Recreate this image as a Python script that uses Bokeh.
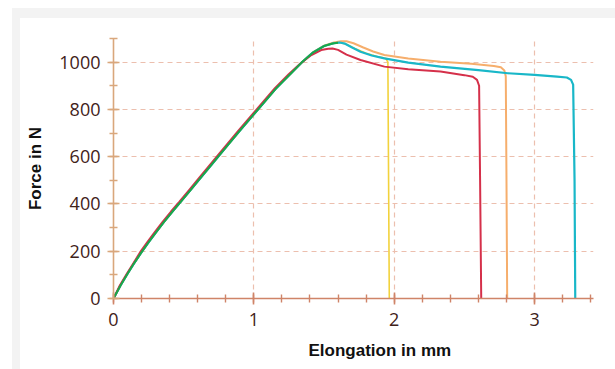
from bokeh.plotting import figure
from bokeh.models import Range1d, SingleIntervalTicker, Title
from bokeh.embed import file_html
from bokeh.resources import INLINE

# ---- data (elongation in mm, force in N) ----
yellow_x = [0, 0.05, 0.1, 0.15, 0.2, 0.25, 0.3, 0.36, 0.42, 0.48, 0.55, 0.62, 0.7, 0.75, 0.82, 0.9, 1.03, 1.16, 1.26, 1.34, 1.42, 1.5, 1.57, 1.61, 1.66, 1.72, 1.8, 1.88, 1.94, 1.955, 1.96, 1.965]
yellow_y = [0, 55, 105, 152, 196, 238, 278, 324, 368, 410, 460, 510, 567, 603, 653, 710, 800, 890, 950, 998, 1040, 1068, 1080, 1083, 1076, 1058, 1038, 1024, 1016, 1000, 500, 0]

orange_x = [0, 0.05, 0.1, 0.15, 0.2, 0.25, 0.3, 0.36, 0.42, 0.48, 0.55, 0.62, 0.7, 0.75, 0.82, 0.9, 1.03, 1.16, 1.26, 1.34, 1.42, 1.5, 1.57, 1.62, 1.66, 1.71, 1.78, 1.85, 1.93, 2.1, 2.33, 2.55, 2.71, 2.76, 2.785, 2.795, 2.80, 2.805]
orange_y = [0, 55, 105, 152, 196, 238, 278, 324, 368, 410, 460, 510, 567, 603, 653, 710, 800, 890, 950, 998, 1041, 1070, 1083, 1088, 1088, 1080, 1062, 1045, 1030, 1015, 1002, 993, 984, 978, 965, 940, 500, 0]

cyan_x = [0, 0.05, 0.1, 0.15, 0.2, 0.25, 0.3, 0.36, 0.42, 0.48, 0.55, 0.62, 0.7, 0.75, 0.82, 0.9, 1.03, 1.16, 1.26, 1.34, 1.42, 1.5, 1.57, 1.61, 1.65, 1.7, 1.76, 1.84, 1.93, 2.1, 2.33, 2.6, 2.81, 3.0, 3.16, 3.23, 3.26, 3.275, 3.285, 3.29]
cyan_y = [0, 55, 105, 152, 196, 238, 278, 324, 368, 410, 460, 510, 567, 603, 653, 710, 800, 890, 950, 998, 1040, 1068, 1080, 1083, 1078, 1062, 1044, 1028, 1016, 998, 981, 966, 953, 946, 939, 935, 925, 905, 500, 0]

red_x = [0, 0.045, 0.095, 0.145, 0.19, 0.24, 0.29, 0.35, 0.41, 0.47, 0.54, 0.61, 0.69, 0.74, 0.81, 0.89, 1.02, 1.15, 1.25, 1.33, 1.41, 1.48, 1.53, 1.56, 1.6, 1.66, 1.76, 1.93, 2.1, 2.33, 2.5, 2.56, 2.59, 2.605, 2.612, 2.62]
red_y = [0, 55, 105, 152, 196, 238, 278, 324, 368, 410, 460, 510, 567, 603, 653, 710, 800, 890, 950, 993, 1030, 1051, 1057, 1058, 1052, 1032, 1009, 981, 970, 960, 945, 938, 925, 900, 500, 0]

green_x = [0, 0.05, 0.1, 0.15, 0.2, 0.25, 0.3, 0.36, 0.42, 0.48, 0.55, 0.62, 0.7, 0.75, 0.82, 0.9, 1.03, 1.16, 1.26, 1.34, 1.42, 1.5, 1.56, 1.6]
green_y = [0, 55, 105, 152, 196, 238, 278, 324, 368, 410, 460, 510, 567, 603, 653, 710, 800, 890, 950, 998, 1040, 1068, 1079, 1082]

x_label = "Elongation in mm"
y_label = "Force in N"

GRAY = "#f3f3f3"

p = figure(width=595, height=351, output_backend="svg", toolbar_location=None,
           x_range=Range1d(0, 3.42), y_range=Range1d(0, 1100),
           min_border_left=93, min_border_right=22, min_border_top=20, min_border_bottom=68,
           background_fill_color="white", border_fill_color="white",
           outline_line_color=None,
           margin=(18, 0, 0, 20),
           styles={"box-shadow": f"-8px 0 0 0 {GRAY}, 0 -10px 0 0 {GRAY}, -8px -10px 0 0 {GRAY}"})

p.line(yellow_x, yellow_y, line_color="#f2d23c", line_width=1.6)
p.line(orange_x, orange_y, line_color="#f6ae6c", line_width=2)
p.line(cyan_x, cyan_y, line_color="#19b7c8", line_width=2.2)
p.line(red_x, red_y, line_color="#d5304a", line_width=2)
p.line(green_x, green_y, line_color="#18a84a", line_width=2)

# axes
p.xaxis.ticker = SingleIntervalTicker(interval=1, num_minor_ticks=5)
p.yaxis.ticker = SingleIntervalTicker(interval=200, num_minor_ticks=2)

for ax, col in ((p.xaxis, "#cf8468"), (p.yaxis, "#d9a77c")):
    ax.axis_line_color = col
    ax.axis_line_width = 1.6
    ax.major_tick_line_color = col
    ax.minor_tick_line_color = col
    ax.major_tick_line_width = 1.6
    ax.minor_tick_line_width = 1.4
    ax.major_tick_in = 6
    ax.major_tick_out = 6
    ax.minor_tick_in = 4
    ax.minor_tick_out = 4
    ax.major_label_text_font = "Open Sans"
    ax.major_label_text_font_size = "18px"
    ax.major_label_text_color = "#3f2219"

p.xaxis.major_label_standoff = 8
p.yaxis.major_label_standoff = 7

p.yaxis.axis_label = y_label
p.yaxis.axis_label_text_font = "Liberation Sans"
p.yaxis.axis_label_text_font_style = "bold"
p.yaxis.axis_label_text_font_size = "17px"
p.yaxis.axis_label_text_color = "#111111"
p.yaxis.axis_label_standoff = 11

p.add_layout(Title(text=x_label, align="left", offset=195,
                   text_font="Liberation Sans", text_font_style="bold",
                   text_font_size="17px", text_color="#111111", standoff=20), "below")

p.xgrid.ticker = SingleIntervalTicker(interval=1)
p.ygrid.ticker = SingleIntervalTicker(interval=200)
p.grid.grid_line_color = "#ecbfae"
p.grid.grid_line_dash = "5 4"
p.grid.grid_line_width = 1.2

open("out.html", "w").write(file_html(p, INLINE))
